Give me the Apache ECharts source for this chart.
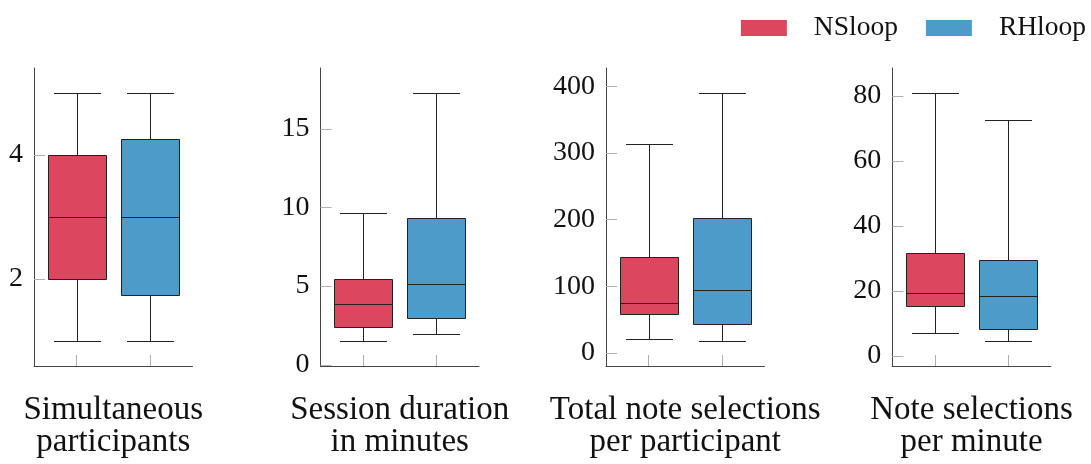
<!DOCTYPE html>
<html><head><meta charset="utf-8">
<script src="https://cdn.jsdelivr.net/npm/echarts@6/dist/echarts.min.js"></script>
<style>html,body{margin:0;padding:0;background:#fff}#c{width:1091px;height:464px}</style>
</head><body><div id="c"></div>
<script>
// ---- data ----
const seriesNames = ['NSloop', 'RHloop'];
const panelLabels = [
  'Simultaneous\nparticipants',
  'Session duration\nin minutes',
  'Total note selections\nper participant',
  'Note selections\nper minute'
];
// each row: [min, Q1, median, Q3, max]
const nsloop = [
  [1, 2, 3, 4, 5],
  [1.5, 2.39, 3.88, 5.43, 9.67],
  [20.5, 57.6, 75.2, 143.3, 312.8],
  [7.1, 15.2, 19.4, 31.7, 80.9]
];
const rhloop = [
  [1, 1.75, 3, 4.25, 5],
  [1.97, 2.99, 5.15, 9.33, 17.29],
  [17.4, 43.6, 93.7, 203, 390.4],
  [4.5, 8.1, 18.3, 29.4, 72.4]
];
const yTicks = [
  [2, 4],
  [0, 5, 10, 15],
  [0, 100, 200, 300, 400],
  [0, 20, 40, 60, 80]
];
const categoryPos = [1, 2];

// ---- style ----
const colors = ['#DC475F', '#4C9BC9'];
const FONT = '"Liberation Serif", "Times New Roman", serif';
const gridLefts = [34, 320.5, 606, 892.3];
const GRID_W = 158.5, GRID_TOP = 68, GRID_H = 298;
const BOX_W = 0.8, CAP_RATIO = 0.8;

function limits(a, b) {
  const lo = Math.min(...a, ...b), hi = Math.max(...a, ...b), r = hi - lo;
  return [lo - 0.1 * r, hi + 0.1 * r];
}
const snap = v => Math.round(v) + 0.5;

function renderBox(params, api) {
  const x = api.value(0);
  const v = [1, 2, 3, 4, 5].map(i => api.value(i));
  const half = api.size([BOX_W, 0])[0] / 2;
  const capHalf = half * CAP_RATIO;
  const p = v.map(val => api.coord([x, val]));
  const cx = snap(p[0][0]);
  const y = p.map(q => snap(q[1]));
  const ls = { stroke: '#222', lineWidth: 1 };
  const left = Math.round(cx - half) + 0.5, right = Math.round(cx + half) - 0.5;
  return {
    type: 'group',
    children: [
      { type: 'line', shape: { x1: cx, y1: y[4], x2: cx, y2: y[3] }, style: ls },
      { type: 'line', shape: { x1: cx, y1: y[1], x2: cx, y2: y[0] }, style: ls },
      { type: 'line', shape: { x1: cx - capHalf, y1: y[4], x2: cx + capHalf, y2: y[4] }, style: ls },
      { type: 'line', shape: { x1: cx - capHalf, y1: y[0], x2: cx + capHalf, y2: y[0] }, style: ls },
      { type: 'rect', shape: { x: left, y: y[3], width: right - left, height: y[1] - y[3] },
        style: { fill: api.visual('color'), stroke: '#222', lineWidth: 1 } },
      { type: 'line', shape: { x1: left, y1: y[2], x2: right, y2: y[2] }, style: ls }
    ]
  };
}

const grids = [], xAxes = [], yAxes = [], series = [];
for (let p = 0; p < 4; p++) {
  grids.push({ left: gridLefts[p], top: GRID_TOP, width: GRID_W, height: GRID_H, containLabel: false });
  xAxes.push({
    type: 'value', gridIndex: p, min: 0.42, max: 2.58,
    axisLine: { show: true, onZero: false, lineStyle: { color: '#444', width: 1 } },
    axisTick: { show: true, inside: true, length: 11, customValues: categoryPos, lineStyle: { color: '#b0b0b0' } },
    axisLabel: { show: false },
    splitLine: { show: false },
    name: panelLabels[p], nameLocation: 'middle', nameGap: 28,
    nameTextStyle: { fontFamily: FONT, fontSize: 33, lineHeight: 32, color: '#111' }
  });
  const lim = limits(nsloop[p], rhloop[p]);
  yAxes.push({
    type: 'value', gridIndex: p, min: lim[0], max: lim[1],
    axisLine: { show: true, onZero: false, lineStyle: { color: '#444', width: 1 } },
    axisTick: { show: true, inside: true, length: 11, customValues: yTicks[p], lineStyle: { color: '#b0b0b0' } },
    axisLabel: { show: true, customValues: yTicks[p], margin: 11, fontFamily: FONT, fontSize: 28, color: '#111' },
    splitLine: { show: false }
  });
  [nsloop, rhloop].forEach((set, s) => {
    series.push({
      type: 'custom', name: seriesNames[s], xAxisIndex: p, yAxisIndex: p,
      itemStyle: { color: colors[s] },
      encode: { x: 0, y: [1, 2, 3, 4, 5] },
      renderItem: renderBox,
      data: [[categoryPos[s], ...set[p]]]
    });
  });
}

const chart = echarts.init(document.getElementById('c'), null, { renderer: 'canvas' });
chart.setOption({
  animation: false,
  backgroundColor: '#fff',
  legend: {
    data: seriesNames, right: 5, top: 14, padding: 0, icon: 'rect',
    itemWidth: 46, itemHeight: 16, itemGap: 28,
    textStyle: { fontFamily: FONT, fontSize: 27.5, color: '#111', padding: [0, 0, 0, 22] }
  },
  grid: grids, xAxis: xAxes, yAxis: yAxes, series: series
});
</script></body></html>
